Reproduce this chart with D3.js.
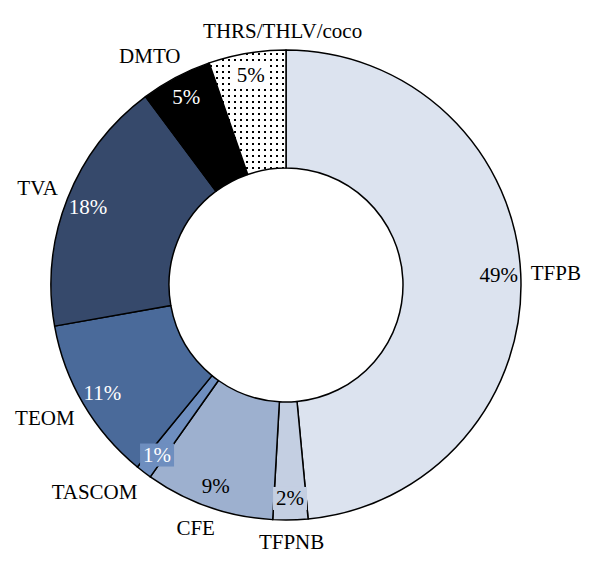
<!DOCTYPE html>
<html>
<head>
<meta charset="utf-8">
<script src="https://cdn.jsdelivr.net/npm/d3@7"></script>
<style>
  html, body { margin: 0; padding: 0; background: #fff; }
  svg text { font-family: "Palatino Linotype", "Book Antiqua", Palatino, "Liberation Serif", "DejaVu Serif", serif; }
</style>
</head>
<body>
<svg id="chart" width="593" height="570"></svg>
<script>
// ---- data ----
const categories = ["TFPB", "TFPNB", "CFE", "TASCOM", "TEOM", "TVA", "DMTO", "THRS/THLV/coco"];
const values     = [48.5, 2.4, 8.9, 1.1, 11.3, 17.6, 4.9, 5.3];
const pctLabels  = ["49%", "2%", "9%", "1%", "11%", "18%", "5%", "5%"];
const colors     = ["#dce3ef", "#c4cfe2", "#9db0cf", "#6e8ebf", "#4a6a9a", "#36496b", "#000000", "url(#dots)"];
const pctColors  = ["#000", "#000", "#000", "#fff", "#fff", "#fff", "#fff", "#000"];
const pctBoxFill = [null, "#c4cfe2", null, "#6e8ebf", null, null, null, "#ffffff"];

// ---- layout ----
const W = 593, H = 570;
const cx = 286, cy = 285;
const rOuter = 235, rInner = 117;
const rPct = 213, rCat = 245;
const fontSize = 21;
// manual nudges for label placement (layout only)
const catNudge = { "THRS/THLV/coco": [57, 0], "TASCOM": [-4, 0] };

const svg = d3.select("#chart");
const defs = svg.append("defs");
const pat = defs.append("pattern").attr("id", "dots")
  .attr("patternUnits", "userSpaceOnUse").attr("width", 6).attr("height", 6);
pat.append("rect").attr("width", 6).attr("height", 6).attr("fill", "#fff");
pat.append("rect").attr("x", 2).attr("y", 2).attr("width", 2).attr("height", 2).attr("fill", "#000");

const data = categories.map((c, i) => ({ cat: c, value: values[i], pct: pctLabels[i], color: colors[i], pctColor: pctColors[i], boxFill: pctBoxFill[i], i }));

const pie = d3.pie().value(d => d.value).sort(null).startAngle(0).endAngle(2 * Math.PI);
const arcs = pie(data);
const arc = d3.arc().innerRadius(rInner).outerRadius(rOuter);

const g = svg.append("g").attr("transform", `translate(${cx},${cy})`);

g.selectAll("path.slice").data(arcs).enter().append("path")
  .attr("class", "slice")
  .attr("d", arc)
  .attr("fill", d => d.data.color)
  .attr("stroke", "#000")
  .attr("stroke-width", 1.5)
  .attr("stroke-linejoin", "round");

// percentage labels
const pctG = g.selectAll("g.pct").data(arcs).enter().append("g").attr("class", "pct")
  .attr("transform", d => {
    const a = (d.startAngle + d.endAngle) / 2;
    return `translate(${rPct * Math.sin(a)},${-rPct * Math.cos(a)})`;
  });
pctG.each(function(d) {
  const sel = d3.select(this);
  const t = sel.append("text")
    .attr("text-anchor", "middle")
    .attr("dominant-baseline", "central")
    .attr("font-size", fontSize)
    .attr("fill", d.data.pctColor)
    .text(d.data.pct);
  if (d.data.boxFill) {
    const bb = t.node().getBBox();
    sel.insert("rect", "text")
      .attr("x", bb.x - 3).attr("y", bb.y + 1)
      .attr("width", bb.width + 6).attr("height", bb.height - 1)
      .attr("fill", d.data.boxFill);
  }
});

// category labels
const catG = g.selectAll("text.cat").data(arcs).enter().append("text")
  .attr("class", "cat")
  .attr("text-anchor", "middle")
  .attr("dominant-baseline", "central")
  .attr("font-size", fontSize)
  .attr("fill", "#000")
  .text(d => d.data.cat);
catG.each(function(d) {
  const a = (d.startAngle + d.endAngle) / 2;
  const bb = this.getBBox();
  const s = Math.sin(a), c = -Math.cos(a);
  const clamp = v => Math.max(-1, Math.min(1, v));
  let x = rCat * s + clamp(s * 1.5) * bb.width / 2;
  let y = rCat * c + clamp(c * 1.5) * bb.height / 2;
  const n = catNudge[d.data.cat];
  if (n) { x += n[0]; y += n[1]; }
  d3.select(this).attr("x", x).attr("y", y);
});
</script>
</body>
</html>
